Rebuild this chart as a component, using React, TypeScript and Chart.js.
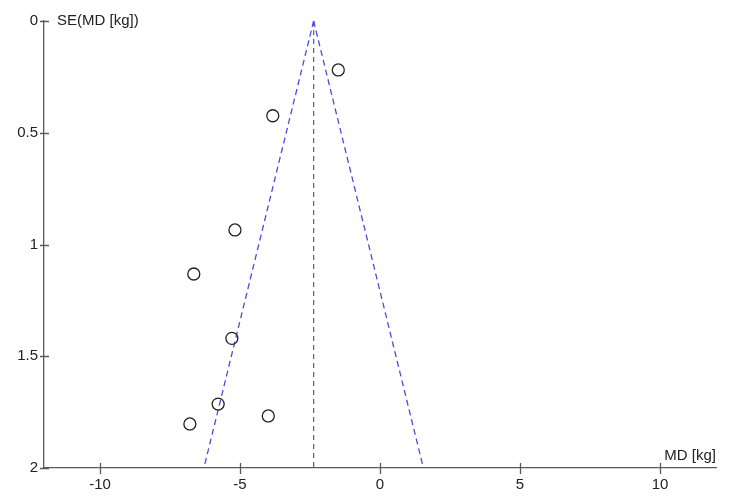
import React, { useEffect, useRef } from "react";
import { Chart, registerables } from "chart.js";

Chart.register(...registerables);

const mdValues = [-1.49, -3.83, -5.18, -6.65, -5.29, -5.78, -3.99, -6.79];
const seValues = [0.219, 0.424, 0.935, 1.132, 1.42, 1.714, 1.767, 1.803];
const pooledMd = -2.37;
const funnelLeftX = [-2.37, -6.29];
const funnelRightX = [-2.37, 1.55];
const funnelY = [0, 2];
const xTicks = [-10, -5, 0, 5, 10];
const yTicks = [0, 0.5, 1, 1.5, 2];
const xTitle = "MD [kg]";
const yTitle = "SE(MD [kg])";

const FONT = "'Liberation Sans', Arial, sans-serif";
const TEXT = "#222222";
const AXIS = "#5a5a5a";

const overlay = {
  id: "funnelOverlay",
  afterDraw(chart: any) {
    const { ctx, chartArea, scales } = chart;
    const xs = scales.x;
    const ys = scales.y;
    ctx.save();
    ctx.strokeStyle = AXIS;
    ctx.lineWidth = 1.3;
    ctx.beginPath();
    xTicks.forEach((v) => {
      const px = Math.round(xs.getPixelForValue(v)) + 0.5;
      ctx.moveTo(px, chartArea.bottom - 5);
      ctx.lineTo(px, chartArea.bottom + 6);
    });
    yTicks.forEach((v) => {
      const py = Math.round(ys.getPixelForValue(v)) + 0.5;
      ctx.moveTo(chartArea.left - 4, py);
      ctx.lineTo(chartArea.left + 5, py);
    });
    ctx.stroke();
    ctx.fillStyle = TEXT;
    ctx.font = `15px ${FONT}`;
    ctx.textBaseline = "middle";
    ctx.textAlign = "left";
    ctx.fillText(yTitle, chartArea.left + 13, ys.getPixelForValue(0));
    ctx.textAlign = "right";
    ctx.fillText(xTitle, chartArea.right, chartArea.bottom - 12);
    ctx.restore();
  },
};

export default function App() {
  const ref = useRef<HTMLCanvasElement>(null);
  useEffect(() => {
    if (!ref.current) return;
    const chart = new Chart(ref.current, {
      type: "scatter",
      data: {
        datasets: [
          {
            label: "Studies",
            data: mdValues.map((x, i) => ({ x, y: seValues[i] })),
            pointRadius: 6,
            pointHoverRadius: 6,
            pointBorderColor: "#222",
            pointBorderWidth: 1.3,
            pointBackgroundColor: "rgba(0,0,0,0)",
            showLine: false,
            order: 0,
          },
          {
            label: "Left limit",
            data: funnelLeftX.map((x, i) => ({ x, y: funnelY[i] })),
            showLine: true,
            borderColor: "#4a4ae6",
            borderWidth: 1.3,
            borderDash: [6, 4],
            pointRadius: 0,
            clip: false as any,
            order: 1,
          },
          {
            label: "Right limit",
            data: funnelRightX.map((x, i) => ({ x, y: funnelY[i] })),
            showLine: true,
            borderColor: "#4a4ae6",
            borderWidth: 1.3,
            borderDash: [6, 4],
            pointRadius: 0,
            clip: false as any,
            order: 1,
          },
          {
            label: "Pooled",
            data: funnelY.map((y) => ({ x: pooledMd, y })),
            showLine: true,
            borderColor: "#6a6a6a",
            borderWidth: 1.3,
            borderDash: [5, 4],
            pointRadius: 0,
            clip: false as any,
            order: 2,
          },
        ],
      },
      options: {
        responsive: false,
        animation: false,
        layout: { padding: { left: 0, top: 21, right: 34, bottom: 0 } },
        plugins: {
          legend: { display: false },
          tooltip: { enabled: false },
        },
        scales: {
          x: {
            type: "linear",
            min: -12,
            max: 12,
            afterBuildTicks: (s: any) => {
              s.ticks = xTicks.map((value) => ({ value }));
            },
            afterFit: (s: any) => {
              s.height = 36;
            },
            grid: { display: false, drawTicks: false },
            border: { display: true, color: AXIS, width: 1.3 },
            ticks: {
              padding: 8,
              color: TEXT,
              font: { family: FONT, size: 15 },
              maxRotation: 0,
            },
          },
          y: {
            type: "linear",
            min: 0,
            max: 2,
            reverse: true,
            afterBuildTicks: (s: any) => {
              s.ticks = yTicks.map((value) => ({ value }));
            },
            afterFit: (s: any) => {
              s.width = 44;
            },
            grid: { display: false, drawTicks: false },
            border: { display: true, color: AXIS, width: 1.3 },
            ticks: {
              padding: 6,
              color: TEXT,
              font: { family: FONT, size: 15 },
              callback: (v: any) => String(v),
            },
          },
        },
      },
      plugins: [overlay],
    });
    return () => chart.destroy();
  }, []);
  return (
    <div style={{ position: "absolute", left: 0, top: 0, width: 750, height: 504, background: "#fff" }}>
      <canvas ref={ref} width={750} height={504} />
    </div>
  );
}
